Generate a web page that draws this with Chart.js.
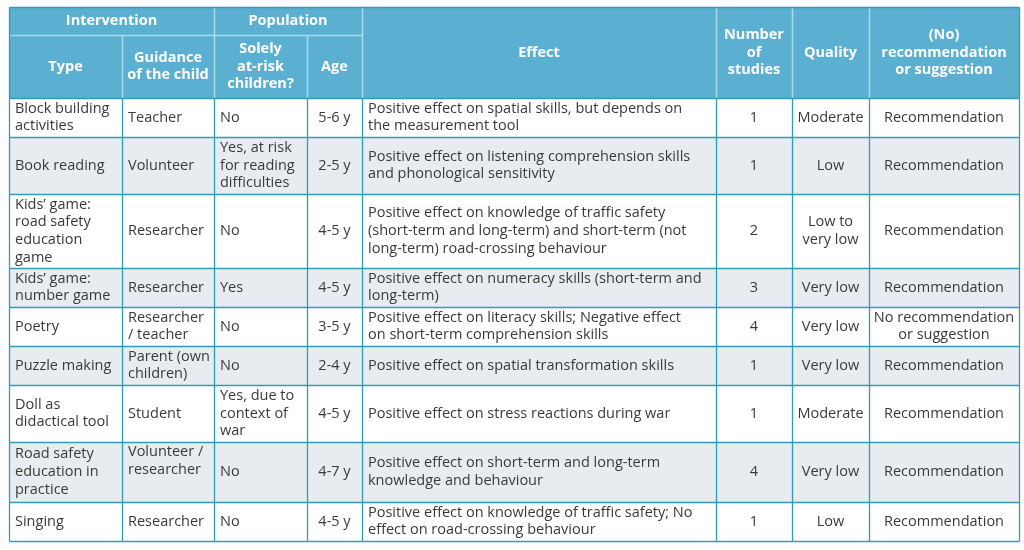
<!DOCTYPE html>
<html>
<head>
<meta charset="utf-8">
<script src="https://cdn.jsdelivr.net/npm/chart.js@4"></script>
<style>
html,body{margin:0;padding:0;background:#ffffff;}
#wrap{width:1024px;height:550px;}
</style>
</head>
<body>
<div id="wrap"><canvas id="c" width="1024" height="550"></canvas></div>
<script>
// ---------- DATA ----------
const groupHeaders = ['Intervention', 'Population'];
const columnHeaders = ['Type', 'Guidance\nof the child', 'Solely\nat-risk\nchildren?', 'Age', 'Effect', 'Number\nof\nstudies', 'Quality', '(No)\nrecommendation\nor suggestion'];
const types = ['Block building\nactivities', 'Book reading', 'Kids’ game:\nroad safety\neducation\ngame', 'Kids’ game:\nnumber game', 'Poetry', 'Puzzle making', 'Doll as\ndidactical tool', 'Road safety\neducation in\npractice', 'Singing'];
const guidance = ['Teacher', 'Volunteer', 'Researcher', 'Researcher', 'Researcher\n/ teacher', 'Parent (own\nchildren)', 'Student', 'Volunteer /\nresearcher', 'Researcher'];
const atRisk = ['No', 'Yes, at risk\nfor reading\ndifficulties', 'No', 'Yes', 'No', 'No', 'Yes, due to\ncontext of\nwar', 'No', 'No'];
const ages = ['5-6 y', '2-5 y', '4-5 y', '4-5 y', '3-5 y', '2-4 y', '4-5 y', '4-7 y', '4-5 y'];
const effects = [
  'Positive effect on spatial skills, but depends on\nthe measurement tool',
  'Positive effect on listening comprehension skills\nand phonological sensitivity',
  'Positive effect on knowledge of traffic safety\n(short-term and long-term) and short-term (not\nlong-term) road-crossing behaviour',
  'Positive effect on numeracy skills (short-term and\nlong-term)',
  'Positive effect on literacy skills; Negative effect\non short-term comprehension skills',
  'Positive effect on spatial transformation skills',
  'Positive effect on stress reactions during war',
  'Positive effect on short-term and long-term\nknowledge and behaviour',
  'Positive effect on knowledge of traffic safety; No\neffect on road-crossing behaviour'
];
const numberOfStudies = [1, 1, 2, 3, 4, 1, 1, 4, 1];
const quality = ['Moderate', 'Low', 'Low to\nvery low', 'Very low', 'Very low', 'Very low', 'Moderate', 'Very low', 'Low'];
const recommendation = ['Recommendation', 'Recommendation', 'Recommendation', 'Recommendation', 'No recommendation\nor suggestion', 'Recommendation', 'Recommendation', 'Recommendation', 'Recommendation'];

// ---------- LAYOUT / STYLE ----------
const layout = {
  left: 9, top: 7,
  colWidths: [113, 92, 93, 55, 354, 76, 77, 150],
  headerHeights: [28, 63],
  rowHeights: [39, 57, 74, 39, 39, 39, 57, 60, 39],
  groupSpans: [[0, 1], [2, 3]],
  align: ['left', 'left', 'left', 'center', 'left', 'center', 'center', 'center'],
  topAligned: [[7, 1]],
  pad: 6, lineH: 17.7,
  font: '"Open Sans", "Noto Sans", sans-serif', size: 14.5,
  headerFill: '#5bb0d2', headerLine: '#a9dcec', bodyLine: '#2f9dba',
  stripe: '#e8ebf0', white: '#ffffff', text: '#3a3a3a', headerText: '#ffffff'
};

const columns = [types, guidance, atRisk, ages, effects, numberOfStudies, quality, recommendation];

const colEdges = [layout.left];
layout.colWidths.forEach(w => colEdges.push(colEdges[colEdges.length - 1] + w));
const rowEdges = [layout.top];
layout.headerHeights.concat(layout.rowHeights).forEach(h => rowEdges.push(rowEdges[rowEdges.length - 1] + h));

// points at cell centres (one per body cell) – used as anchors via the library scales
const anchorPoints = [];
for (let r = 0; r < types.length; r++) {
  for (let c = 0; c < columns.length; c++) {
    anchorPoints.push({x: (colEdges[c] + colEdges[c + 1]) / 2, y: (rowEdges[r + 2] + rowEdges[r + 3]) / 2});
  }
}

const tablePlugin = {
  id: 'tablePlugin',
  afterDatasetsDraw(chart) {
    const ctx = chart.ctx;
    const xs = chart.scales.x, ys = chart.scales.y;
    const X = v => xs.getPixelForValue(v);
    const Y = v => ys.getPixelForValue(v);
    const nCols = columns.length;
    ctx.save();
    function rect(x0, y0, x1, y1, fill) {
      ctx.fillStyle = fill;
      ctx.fillRect(X(x0), Y(y0), X(x1) - X(x0), Y(y1) - Y(y0));
    }
    function text(str, x0, y0, x1, y1, align, bold, color, valign) {
      const lines = String(str).split('\n');
      ctx.font = (bold ? 'bold ' : '') + layout.size + 'px ' + layout.font;
      ctx.fillStyle = color;
      ctx.textBaseline = 'middle';
      const lh = layout.lineH;
      let cy;
      if (valign === 'top') cy = Y(y0) + 10;
      else cy = (Y(y0) + Y(y1)) / 2 - (lines.length - 1) * lh / 2;
      let tx;
      if (align === 'left') { ctx.textAlign = 'left'; tx = X(x0) + layout.pad; }
      else { ctx.textAlign = 'center'; tx = (X(x0) + X(x1)) / 2; }
      lines.forEach((ln, i) => ctx.fillText(ln, tx, cy + i * lh));
    }
    // header background
    rect(colEdges[0], rowEdges[0], colEdges[nCols], rowEdges[2], layout.headerFill);
    // body backgrounds
    for (let r = 0; r < types.length; r++) {
      rect(colEdges[0], rowEdges[r + 2], colEdges[nCols], rowEdges[r + 3], r % 2 === 1 ? layout.stripe : layout.white);
    }
    // header lines
    ctx.strokeStyle = layout.headerLine;
    ctx.lineWidth = 1.5;
    function line(x0, y0, x1, y1) {
      ctx.beginPath();
      ctx.moveTo(Math.round(X(x0)) + 0.5, Math.round(Y(y0)) + 0.5);
      ctx.lineTo(Math.round(X(x1)) + 0.5, Math.round(Y(y1)) + 0.5);
      ctx.stroke();
    }
    layout.groupSpans.forEach(sp => {
      line(colEdges[sp[0]], rowEdges[1], colEdges[sp[1] + 1], rowEdges[1]);
    });
    for (let c = 1; c < nCols; c++) {
      const inGroupInner = layout.groupSpans.some(sp => c > sp[0] && c <= sp[1]);
      line(colEdges[c], inGroupInner ? rowEdges[1] : rowEdges[0], colEdges[c], rowEdges[2]);
    }
    // body lines
    ctx.strokeStyle = layout.bodyLine;
    ctx.lineWidth = 1.3;
    for (let r = 2; r < rowEdges.length; r++) line(colEdges[0], rowEdges[r], colEdges[nCols], rowEdges[r]);
    for (let c = 0; c <= nCols; c++) line(colEdges[c], rowEdges[2], colEdges[c], rowEdges[rowEdges.length - 1]);
    // outer header border
    line(colEdges[0], rowEdges[0], colEdges[nCols], rowEdges[0]);
    line(colEdges[0], rowEdges[0], colEdges[0], rowEdges[2]);
    line(colEdges[nCols], rowEdges[0], colEdges[nCols], rowEdges[2]);
    // header text
    layout.groupSpans.forEach((sp, i) => {
      text(groupHeaders[i], colEdges[sp[0]], rowEdges[0], colEdges[sp[1] + 1], rowEdges[1], 'center', true, layout.headerText);
    });
    for (let c = 0; c < nCols; c++) {
      const grouped = layout.groupSpans.some(sp => c >= sp[0] && c <= sp[1]);
      text(columnHeaders[c], colEdges[c], grouped ? rowEdges[1] : rowEdges[0], colEdges[c + 1], rowEdges[2], 'center', true, layout.headerText);
    }
    // body text
    for (let r = 0; r < types.length; r++) {
      for (let c = 0; c < nCols; c++) {
        const top = layout.topAligned.some(t => t[0] === r && t[1] === c);
        text(columns[c][r], colEdges[c], rowEdges[r + 2], colEdges[c + 1], rowEdges[r + 3], layout.align[c], false, layout.text, top ? 'top' : 'middle');
      }
    }
    ctx.restore();
  }
};

new Chart(document.getElementById('c'), {
  type: 'scatter',
  data: { datasets: [{ label: 'cells', data: anchorPoints, pointRadius: 0, pointHoverRadius: 0 }] },
  options: {
    responsive: false,
    animation: false,
    events: [],
    layout: { padding: 0 },
    plugins: { legend: { display: false }, tooltip: { enabled: false } },
    scales: {
      x: { type: 'linear', min: 0, max: 1024, display: false },
      y: { type: 'linear', min: 0, max: 550, reverse: true, display: false }
    }
  },
  plugins: [tablePlugin]
});
</script>
</body>
</html>
